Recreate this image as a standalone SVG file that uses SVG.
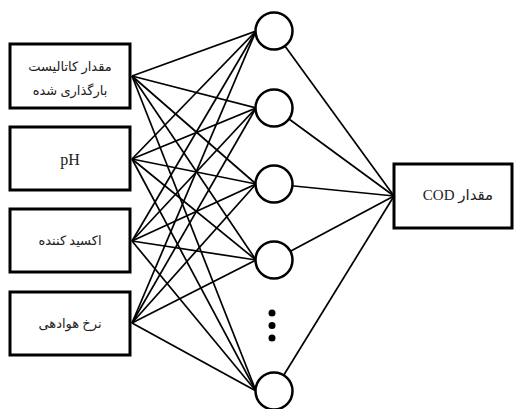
<svg xmlns="http://www.w3.org/2000/svg" width="515" height="409" viewBox="0 0 515 409">
<style>
.box{fill:#fff;stroke:#000;stroke-width:3}
.neuron{fill:#fff;stroke:#000;stroke-width:2.5}
.conn line{stroke:#000;stroke-width:1.7}
.t{font-family:"Liberation Serif","DejaVu Serif","DejaVu Sans",serif;fill:#222;text-anchor:middle}
</style>
<rect width="515" height="409" fill="#fff"/>
<g id="connectors" class="conn">
<line x1="132" y1="76" x2="256" y2="31"/><line x1="132" y1="76" x2="256" y2="108"/><line x1="132" y1="76" x2="256" y2="184"/><line x1="132" y1="76" x2="256" y2="260"/><line x1="132" y1="76" x2="256" y2="391"/>
<line x1="132" y1="159" x2="256" y2="31"/><line x1="132" y1="159" x2="256" y2="108"/><line x1="132" y1="159" x2="256" y2="184"/><line x1="132" y1="159" x2="256" y2="260"/><line x1="132" y1="159" x2="256" y2="391"/>
<line x1="132" y1="241" x2="256" y2="31"/><line x1="132" y1="241" x2="256" y2="108"/><line x1="132" y1="241" x2="256" y2="184"/><line x1="132" y1="241" x2="256" y2="260"/><line x1="132" y1="241" x2="256" y2="391"/>
<line x1="132" y1="323" x2="256" y2="31"/><line x1="132" y1="323" x2="256" y2="108"/><line x1="132" y1="323" x2="256" y2="184"/><line x1="132" y1="323" x2="256" y2="260"/><line x1="132" y1="323" x2="256" y2="391"/>
<line x1="274" y1="31" x2="394" y2="196"/><line x1="274" y1="108" x2="394" y2="196"/><line x1="274" y1="184" x2="394" y2="196"/><line x1="274" y1="260" x2="394" y2="196"/><line x1="274" y1="391" x2="394" y2="196"/>
</g>
<g id="in1"><rect class="box" x="10" y="44" width="120" height="64"/><text class="t" x="70" y="71" font-size="13">مقدار کاتالیست</text><text class="t" x="70" y="95" font-size="13">بارگذاری شده</text></g>
<g id="in2"><rect class="box" x="10" y="127" width="120" height="63"/><text class="t" x="70" y="165" font-size="16">pH</text></g>
<g id="in3"><rect class="box" x="10" y="209" width="120" height="63"/><text class="t" x="70" y="245" font-size="13">اکسید کننده</text></g>
<g id="in4"><rect class="box" x="10" y="292" width="120" height="63"/><text class="t" x="70" y="328" font-size="13">نرخ هوادهی</text></g>
<g id="h1"><circle class="neuron" cx="274" cy="31" r="18.5"/></g>
<g id="h2"><circle class="neuron" cx="274" cy="108" r="18.5"/></g>
<g id="h3"><circle class="neuron" cx="274" cy="184" r="18.5"/></g>
<g id="h4"><circle class="neuron" cx="274" cy="260" r="18.5"/></g>
<g id="dots"><circle cx="272" cy="313" r="3.5"/><circle cx="272" cy="325.5" r="3.5"/><circle cx="272" cy="338" r="3.5"/></g>
<g id="h5"><circle class="neuron" cx="274" cy="391" r="18.5"/></g>
<g id="out"><rect class="box" x="394" y="164" width="118" height="64"/><text class="t" x="458" y="200" font-size="15" direction="rtl">مقدار COD</text></g>
</svg>
